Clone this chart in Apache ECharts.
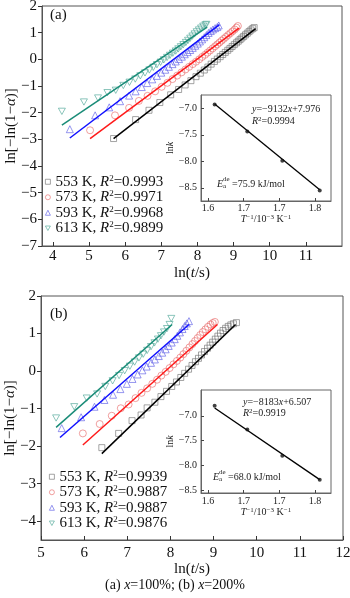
<!DOCTYPE html>
<html>
<head>
<meta charset="utf-8">
<script src="https://cdn.jsdelivr.net/npm/echarts@6/dist/echarts.min.js"></script>
<style>
  html, body { margin: 0; padding: 0; background: #fff; }
  #chart { width: 350px; height: 598px; }
</style>
</head>
<body>
<div id="chart"></div>
<script>
// ---- data ----
const temps = ['553', '573', '593', '613'];
const r2A = ['0.9993', '0.9971', '0.9968', '0.9899'];
const r2B = ['0.9939', '0.9887', '0.9887', '0.9876'];

// (a) x=100%  points [ln(t/s), ln[-ln(1-a)]]
const a553 = [[5.68,-2.97],[6.29,-2.26],[6.66,-1.91],[6.96,-1.62],[7.26,-1.33],[7.48,-1.13],[7.66,-0.96],[7.82,-0.80],[7.96,-0.65],[8.08,-0.52],[8.19,-0.40],[8.29,-0.29],[8.38,-0.18],[8.47,-0.08],[8.55,0.01],[8.63,0.10],[8.70,0.18],[8.77,0.26],[8.84,0.34],[8.90,0.41],[8.96,0.48],[9.02,0.55],[9.08,0.62],[9.13,0.68],[9.18,0.74],[9.23,0.80],[9.28,0.86],[9.33,0.92],[9.38,0.98],[9.43,1.04],[9.48,1.10],[9.53,1.15],[9.57,1.19]];
const a573 = [[5.03,-2.66],[5.72,-2.10],[6.11,-1.82],[6.38,-1.56],[6.62,-1.37],[6.83,-1.20],[7.01,-1.03],[7.17,-0.88],[7.31,-0.74],[7.44,-0.61],[7.56,-0.49],[7.67,-0.38],[7.77,-0.28],[7.87,-0.18],[7.96,-0.09],[8.05,0.00],[8.13,0.09],[8.21,0.17],[8.28,0.25],[8.35,0.33],[8.42,0.41],[8.49,0.49],[8.55,0.56],[8.61,0.63],[8.67,0.70],[8.73,0.77],[8.79,0.84],[8.85,0.91],[8.91,0.98],[8.97,1.05],[9.03,1.12],[9.08,1.19],[9.12,1.25]];
const a593 = [[4.47,-2.62],[5.17,-2.10],[5.56,-1.80],[5.86,-1.57],[6.11,-1.36],[6.29,-1.20],[6.46,-1.04],[6.61,-0.89],[6.75,-0.75],[6.88,-0.62],[7.00,-0.50],[7.11,-0.39],[7.21,-0.28],[7.31,-0.18],[7.40,-0.08],[7.49,0.01],[7.57,0.10],[7.65,0.19],[7.73,0.27],[7.80,0.35],[7.87,0.43],[7.94,0.51],[8.01,0.59],[8.07,0.67],[8.13,0.75],[8.19,0.83],[8.25,0.91],[8.31,0.99],[8.37,1.06],[8.43,1.12],[8.49,1.17],[8.55,1.21],[8.59,1.27]];
const a613 = [[4.25,-1.95],[4.86,-1.60],[5.25,-1.45],[5.51,-1.25],[5.74,-1.16],[5.95,-0.98],[6.12,-0.86],[6.28,-0.74],[6.42,-0.62],[6.55,-0.51],[6.67,-0.40],[6.78,-0.30],[6.88,-0.20],[6.98,-0.11],[7.07,-0.02],[7.16,0.07],[7.24,0.15],[7.32,0.23],[7.40,0.31],[7.47,0.39],[7.54,0.47],[7.61,0.55],[7.68,0.63],[7.74,0.71],[7.80,0.79],[7.86,0.87],[7.92,0.95],[7.98,1.03],[8.04,1.10],[8.10,1.17],[8.16,1.24],[8.22,1.29],[8.25,1.31]];
const fitA = [
  [[5.68,-2.97],[9.61,1.15]],
  [[5.03,-2.97],[9.15,1.17]],
  [[4.47,-2.95],[8.61,1.30]],
  [[4.25,-2.47],[8.27,1.21]]
];

// (b) x=200%
const b553 = [[6.41,-2.04],[6.80,-1.66],[7.11,-1.32],[7.32,-1.17],[7.46,-0.98],[7.64,-0.83],[7.78,-0.68],[7.91,-0.54],[8.03,-0.41],[8.14,-0.29],[8.24,-0.17],[8.33,-0.06],[8.42,0.05],[8.50,0.15],[8.58,0.25],[8.65,0.34],[8.72,0.43],[8.79,0.52],[8.86,0.61],[8.92,0.69],[8.98,0.77],[9.04,0.85],[9.10,0.93],[9.16,1.01],[9.22,1.08],[9.28,1.14],[9.34,1.19],[9.40,1.23],[9.46,1.26],[9.53,1.29]];
const b573 = [[5.97,-1.66],[6.36,-1.41],[6.64,-1.19],[6.85,-0.99],[7.03,-0.89],[7.19,-0.72],[7.33,-0.58],[7.46,-0.46],[7.58,-0.34],[7.69,-0.23],[7.79,-0.12],[7.89,-0.02],[7.98,0.08],[8.07,0.18],[8.15,0.27],[8.23,0.36],[8.30,0.45],[8.37,0.54],[8.44,0.63],[8.51,0.72],[8.57,0.80],[8.63,0.88],[8.69,0.96],[8.75,1.04],[8.81,1.11],[8.87,1.18],[8.93,1.24],[8.98,1.28],[9.03,1.31]];
const b593 = [[5.48,-1.52],[5.93,-1.23],[6.24,-0.95],[6.47,-0.77],[6.67,-0.63],[6.84,-0.48],[6.99,-0.34],[7.12,-0.21],[7.24,-0.09],[7.35,0.02],[7.45,0.12],[7.55,0.22],[7.64,0.31],[7.73,0.40],[7.81,0.49],[7.89,0.58],[7.96,0.67],[8.03,0.76],[8.10,0.85],[8.16,0.94],[8.22,1.03],[8.28,1.12],[8.33,1.20],[8.38,1.27],[8.43,1.33]];
const b613 = [[5.35,-1.25],[5.77,-0.95],[6.06,-0.72],[6.30,-0.61],[6.49,-0.41],[6.66,-0.26],[6.81,-0.12],[6.94,0.01],[7.06,0.13],[7.17,0.24],[7.27,0.35],[7.37,0.45],[7.46,0.55],[7.55,0.65],[7.63,0.75],[7.71,0.85],[7.78,0.94],[7.85,1.04],[7.92,1.13],[7.98,1.24],[8.02,1.40]];
const fitB = [
  [[6.41,-2.20],[9.51,1.24]],
  [[5.97,-1.97],[9.09,1.24]],
  [[5.44,-1.77],[8.43,1.24]],
  [[5.35,-1.50],[8.04,1.24]]
];

// insets: lnk vs 1/T (10^-3 K^-1)
const invT = [1.808, 1.745, 1.686, 1.631];
const lnkA = [-8.55, -7.99, -7.44, -6.93];
const lnkB = [-8.29, -7.81, -7.28, -6.80];
const fitLnkA = [-8.537, -6.921];
const fitLnkB = [-8.290, -6.842];

const xTicksA = [4, 5, 6, 7, 8, 9, 10, 11];
const yTicksB = [-4, -3, -2, -1, 0, 1, 2];
const insetXTicks = [1.62, 1.68, 1.74, 1.80];
const insetYTicks = [-7.0, -7.5, -8.0, -8.5];

// ---- styles ----
const FONT = 'Liberation Serif';
const lineColors = ['#000000', '#ff1a1a', '#1010ff', '#1a8c78'];
const markColors = ['#707070', '#e86a6a', '#5a5ae6', '#4aa594'];
const symbols = ['rect', 'circle', 'triangle', 'path://M0,0 L10,0 L5,9 Z'];
const symSize = [[6, 6], [7, 7], [7, 7], [7, 6.3]];

const minus = v => String(v).replace('-', '\u2212');
const richBase = {
  i: { fontFamily: FONT, fontStyle: 'italic', fontSize: 15, color: '#111' },
  s: { fontFamily: FONT, fontSize: 9, color: '#111', verticalAlign: 'top' }
};

const chart = echarts.init(document.getElementById('chart'), null, { renderer: 'canvas' });

function mainXAxis(grid, min, max, ticks, interval, margin, gap) {
  const ax = {
    type: 'value', gridIndex: grid, min: min, max: max,
    axisLine: { onZero: false, lineStyle: { color: '#555', width: 1 } },
    axisTick: { inside: true, length: 4, lineStyle: { color: '#333' } },
    axisLabel: { fontFamily: FONT, fontSize: 15, color: '#111', margin: margin },
    splitLine: { show: false },
    name: 'ln({i|t}/s)', nameLocation: 'middle', nameGap: gap,
    nameTextStyle: { fontFamily: FONT, fontSize: 15, color: '#111', rich: richBase }
  };
  if (ticks) {
    ax.axisTick.customValues = ticks;
    ax.axisLabel.customValues = ticks;
  } else {
    ax.interval = interval;
  }
  return ax;
}

function mainYAxis(grid, min, max, ticks) {
  const ax = {
    type: 'value', gridIndex: grid, min: min, max: max,
    axisLine: { onZero: false, lineStyle: { color: '#555', width: 1 } },
    axisTick: { inside: false, length: 4, lineStyle: { color: '#333' } },
    axisLabel: { fontFamily: FONT, fontSize: 15, color: '#111', margin: 5, formatter: minus },
    splitLine: { show: false },
    name: 'ln[\u2212ln(1\u2212{i|\u03b1})]', nameLocation: 'middle', nameGap: 23, nameRotate: 90,
    nameMoveOverlap: false,
    nameTextStyle: { fontFamily: FONT, fontSize: 15, color: '#111', rich: richBase }
  };
  if (ticks) {
    ax.axisTick.customValues = ticks;
    ax.axisLabel.customValues = ticks;
  } else {
    ax.interval = 1;
  }
  return ax;
}

const insetRich = {
  i: { fontFamily: FONT, fontStyle: 'italic', fontSize: 10, color: '#222' },
  s: { fontFamily: FONT, fontSize: 7, color: '#222', verticalAlign: 'top' }
};

function insetXAxis(grid, margin, gap) {
  return {
    type: 'value', gridIndex: grid, min: 1.608, max: 1.827,
    axisLine: { onZero: false, lineStyle: { color: '#666' } },
    axisTick: { inside: true, length: 3, customValues: insetXTicks, lineStyle: { color: '#444' } },
    axisLabel: { customValues: insetXTicks, fontFamily: FONT, fontSize: 10, color: '#222', margin: margin,
      formatter: v => v.toFixed(1) },
    splitLine: { show: false },
    name: '{i|T}{s|\u22121}/10{s|\u22123} K{s|\u22121}', nameLocation: 'middle', nameGap: gap,
    nameTextStyle: { fontFamily: FONT, fontSize: 10, color: '#222', rich: insetRich }
  };
}

function insetYAxis(grid, min, max) {
  return {
    type: 'value', gridIndex: grid, min: min, max: max,
    axisLine: { onZero: false, lineStyle: { color: '#666' } },
    axisTick: { inside: true, length: 3, customValues: insetYTicks, lineStyle: { color: '#444' } },
    axisLabel: { customValues: insetYTicks, fontFamily: FONT, fontSize: 10, color: '#222', margin: 4,
      formatter: v => minus(v.toFixed(1)) },
    splitLine: { show: false },
    name: 'ln{i|k}', nameLocation: 'middle', nameGap: 21, nameRotate: 90,
    nameTextStyle: { fontFamily: FONT, fontSize: 10, color: '#222', rich: insetRich }
  };
}

const series = [];
function addPanel(prefix, sets, fits, axisIdx) {
  sets.forEach((d, k) => {
    series.push({
      name: prefix + temps[k], type: 'scatter', xAxisIndex: axisIdx, yAxisIndex: axisIdx,
      data: d, symbol: symbols[k], symbolSize: symSize[k],
      itemStyle: { color: 'rgba(255,255,255,0)', borderColor: markColors[k], borderWidth: 0.8 },
      z: 3
    });
  });
  fits.forEach((d, k) => {
    series.push({
      type: 'line', xAxisIndex: axisIdx, yAxisIndex: axisIdx, data: d,
      symbol: 'none', lineStyle: { color: lineColors[k], width: 1.5 }, z: 4, silent: true
    });
  });
}
addPanel('a', [a553, a573, a593, a613], fitA, 0);
addPanel('b', [b553, b573, b593, b613], fitB, 1);

function addInset(lnk, fit, axisIdx) {
  series.push({
    type: 'line', xAxisIndex: axisIdx, yAxisIndex: axisIdx,
    data: [[invT[0], fit[0]], [invT[3], fit[1]]],
    symbol: 'none', lineStyle: { color: '#000', width: 1.3 }, z: 5
  });
  series.push({
    type: 'scatter', xAxisIndex: axisIdx, yAxisIndex: axisIdx,
    data: invT.map((x, i) => [x, lnk[i]]),
    symbol: 'circle', symbolSize: 4, itemStyle: { color: '#111' }, z: 6
  });
}
addInset(lnkA, fitLnkA, 2);
addInset(lnkB, fitLnkB, 3);

const legendLabels = {};
temps.forEach((t, k) => {
  legendLabels['a' + t] = t + ' K, {i|R}{s|2}=' + r2A[k];
  legendLabels['b' + t] = t + ' K, {i|R}{s|2}=' + r2B[k];
});

function legend(prefix, left, top) {
  return {
    data: temps.map((t, k) => ({
      name: prefix + t, icon: symbols[k],
      itemStyle: { color: 'rgba(255,255,255,0)', borderColor: markColors[k], borderWidth: 0.8 }
    })),
    orient: 'vertical', left: left, top: top,
    padding: 0, itemGap: 0, itemWidth: 5, itemHeight: 5, selectedMode: false,
    formatter: n => legendLabels[n],
    textStyle: { fontFamily: FONT, fontSize: 15, color: '#111', lineHeight: 15.5, rich: richBase }
  };
}

function txt(x, y, text, size) {
  return {
    type: 'text', left: x, top: y, z: 10,
    style: { text: text, fontFamily: FONT, fontSize: size, fill: '#222', rich: insetRich }
  };
}

const gridBase = { show: true, borderWidth: 1, containLabel: false, outerBoundsMode: 'none' };

const option = {
  animation: false,
  backgroundColor: '#fff',
  grid: [
    Object.assign({ left: 42, top: 6, width: 300, height: 240, borderColor: '#555' }, gridBase),
    Object.assign({ left: 41, top: 296, width: 302, height: 244, borderColor: '#555' }, gridBase),
    Object.assign({ left: 201, top: 95, width: 130, height: 106, borderColor: '#666', backgroundColor: '#fff' }, gridBase),
    Object.assign({ left: 201, top: 390, width: 130, height: 103, borderColor: '#666', backgroundColor: '#fff' }, gridBase)
  ],
  xAxis: [
    mainXAxis(0, 3.7, 12, xTicksA, null, 3, 20),
    mainXAxis(1, 5, 12, null, 1, 6, 18),
    insetXAxis(2, 2, 10),
    insetXAxis(3, 3, 13)
  ],
  yAxis: [
    mainYAxis(0, -7, 2, null),
    mainYAxis(1, -4.5, 2, yTicksB),
    insetYAxis(2, -8.75, -6.75),
    insetYAxis(3, -8.56, -6.48)
  ],
  legend: [legend('a', 45, 174), legend('b', 49, 469)],
  series: series,
  graphic: [
    { type: 'text', left: 50, top: 8, style: { text: '(a)', fontFamily: FONT, fontSize: 15, fill: '#111' } },
    { type: 'text', left: 50, top: 307, style: { text: '(b)', fontFamily: FONT, fontSize: 15, fill: '#111' } },
    // inset (a)
    txt(252, 104, '{i|y}=\u22129132{i|x}+7.976', 10),
    txt(252, 116, '{i|R}{s|2}=0.9994', 10),
    txt(217, 179, '{i|E}', 10),
    txt(223, 176, 'de', 7),
    txt(223, 183, 'a', 7),
    txt(232, 179, '=75.9 kJ/mol', 10),
    // inset (b)
    txt(243, 397, '{i|y}=\u22128183{i|x}+6.507', 10),
    txt(243, 408, '{i|R}{s|2}=0.9919', 10),
    txt(213, 472, '{i|E}', 10),
    txt(219, 469, 'de', 7),
    txt(219, 476, 'a', 7),
    txt(228, 472, '=68.0 kJ/mol', 10),
    // caption
    { type: 'text', left: 'center', top: 578,
      style: { text: '(a) {i|x}=100%; (b) {i|x}=200%', fontFamily: FONT, fontSize: 14, fill: '#111',
        rich: { i: { fontFamily: FONT, fontStyle: 'italic', fontSize: 14, color: '#111' } } } }
  ]
};

chart.setOption(option);
</script>
</body>
</html>
